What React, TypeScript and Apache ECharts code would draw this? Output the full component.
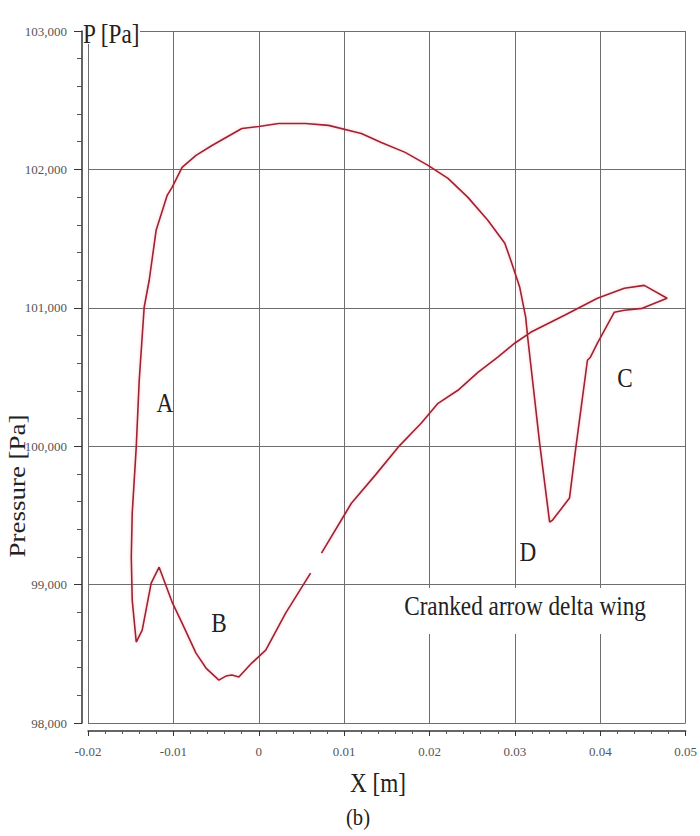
import React, { useEffect, useRef } from 'react';
import * as echarts from 'echarts';

// Chordwise station X [m] along the wing section, traced as one open loop
const xStations = [
  0.00607, 0.00315, 0.00082, -0.00082, -0.00233, -0.00315, -0.00385, -0.00467,
  -0.00618, -0.00735, -0.00898, -0.01015, -0.01167, -0.0126, -0.01365, -0.01435,
  -0.01482, -0.01493, -0.01482, -0.01435, -0.014, -0.01342, -0.01283, -0.01202,
  -0.01073, -0.01015, -0.00898, -0.00735, -0.00548, -0.00198, 0.0, 0.00233,
  0.00548, 0.00817, 0.01202, 0.01435, 0.01715, 0.01983, 0.02217, 0.0245,
  0.02683, 0.02882, 0.02952, 0.03057, 0.03127, 0.0315, 0.0329, 0.03407,
  0.03442, 0.0364, 0.0371, 0.0385, 0.03885, 0.03967, 0.04165, 0.04282,
  0.04492, 0.04783, 0.04515, 0.04282, 0.03967, 0.03582, 0.03185, 0.02998,
  0.028, 0.02567, 0.02333, 0.021, 0.01902, 0.01633, 0.01365, 0.01085, 0.00735,
];

// Static pressure P [Pa] at each station
const pressures = [
  99083, 98794, 98527, 98433, 98332, 98347, 98339, 98310,
  98397, 98505, 98722, 98874, 99126, 99011, 98671, 98585,
  98888, 99199, 99516, 99993, 100477, 101004, 101199, 101560,
  101812, 101870, 102014, 102101, 102173, 102296, 102310, 102332,
  102332, 102318, 102260, 102195, 102123, 102029, 101935, 101798,
  101632, 101466, 101343, 101148, 100931, 100787, 100022, 99451,
  99466, 99625, 99971, 100621, 100643, 100744, 100968, 100982,
  100996, 101069, 101162, 101141, 101069, 100946, 100823, 100744,
  100643, 100534, 100404, 100310, 100166, 99993, 99791, 99588, 99227,
];

const SERIF = '"Liberation Serif", "Times New Roman", serif';
const SQUEEZE = 0.86;

type TextOpts = {
  align?: 'left' | 'center' | 'right';
  rotation?: number;
  fill?: string;
};

function textEl(text: string, x: number, y: number, size: number, opts: TextOpts = {}) {
  const align = opts.align ?? 'center';
  const rotated = !!opts.rotation;
  return {
    type: 'text',
    x,
    y,
    z: 60,
    rotation: opts.rotation ?? 0,
    scaleX: rotated ? 1 : SQUEEZE,
    scaleY: rotated ? SQUEEZE : 1,
    style: {
      text,
      font: `${size}px ${SERIF}`,
      fill: opts.fill ?? '#222',
      textAlign: align,
      textVerticalAlign: 'middle',
      align,
      verticalAlign: 'middle',
    },
  };
}

export default function App() {
  const ref = useRef<HTMLDivElement>(null);

  useEffect(() => {
    if (!ref.current) return;
    const chart = echarts.init(ref.current, null, { renderer: 'svg' });
    const loop = xStations.map((x, i) => [x, pressures[i]]);

    chart.setOption({
      animation: false,
      backgroundColor: '#ffffff',
      grid: { left: 88, top: 31, width: 600, height: 692 },
      xAxis: {
        type: 'value',
        min: -0.02,
        max: 0.05,
        interval: 0.01,
        offset: 8,
        axisLine: { show: true, onZero: false, lineStyle: { color: '#333', width: 1.5 } },
        axisTick: { show: true, length: 5, lineStyle: { color: '#333' } },
        minorTick: { show: true, splitNumber: 5, length: 3, lineStyle: { color: '#555' } },
        axisLabel: {
          margin: 14,
          color: '#555',
          fontFamily: SERIF,
          fontSize: 13,
          formatter: (v: number) => String(Math.round(v * 100) / 100),
        },
        splitLine: { show: true, lineStyle: { color: '#6e6e6e', width: 1 } },
      },
      yAxis: {
        type: 'value',
        min: 98000,
        max: 103000,
        interval: 1000,
        offset: 6,
        axisLine: { show: true, onZero: false, lineStyle: { color: '#333', width: 1.5 } },
        axisTick: { show: true, length: 8, lineStyle: { color: '#333' } },
        minorTick: { show: true, splitNumber: 5, length: 5, lineStyle: { color: '#555' } },
        axisLabel: {
          margin: 15,
          color: '#555',
          fontFamily: SERIF,
          fontSize: 13,
          formatter: (v: number) => v.toLocaleString('en-US'),
        },
        splitLine: { show: true, lineStyle: { color: '#6e6e6e', width: 1 } },
      },
      series: [
        {
          type: 'line',
          data: loop,
          showSymbol: false,
          smooth: false,
          lineStyle: {
            color: '#9e2233',
            width: 1.6,
            shadowColor: 'rgba(235, 95, 110, 0.4)',
            shadowBlur: 3,
          },
          z: 5,
        },
      ],
      graphic: [
        // white boxes behind the in-plot titles
        { type: 'rect', z: 55, shape: { x: 86, y: 22, width: 54, height: 22 }, style: { fill: '#ffffff' } },
        { type: 'rect', z: 55, shape: { x: 400, y: 588, width: 252, height: 46 }, style: { fill: '#ffffff' } },
        textEl('P [Pa]', 83, 34, 27, { align: 'left' }),
        textEl('A', 165, 403, 27),
        textEl('B', 219, 623, 27),
        textEl('C', 625, 378, 27),
        textEl('D', 528, 552, 27),
        textEl('Cranked arrow delta wing', 525, 606, 27),
        textEl('X [m]', 378, 783, 27),
        textEl('Pressure [Pa]', 17, 486, 27, { rotation: Math.PI / 2 }),
        textEl('(b)', 358, 817, 24),
      ],
    });

    return () => chart.dispose();
  }, []);

  return (
    <div
      ref={ref}
      style={{ position: 'fixed', left: 0, top: 0, width: 700, height: 836, background: '#ffffff' }}
    />
  );
}
